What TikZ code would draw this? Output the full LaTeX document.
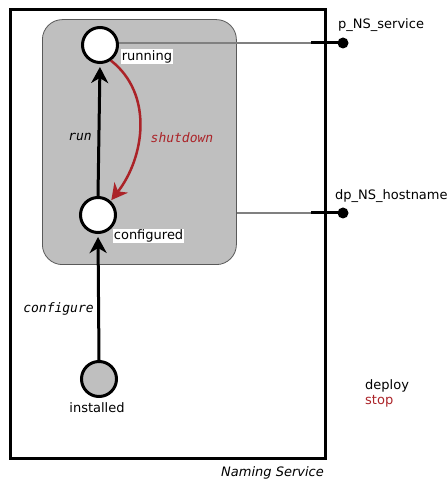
\documentclass[tikz,border=0pt]{standalone}
\usepackage{fontspec}
\setmainfont{DejaVu Sans}
\newfontfamily\monoit{DejaVu Sans Mono}[ItalicFont={DejaVu Sans Mono Oblique}]
\usetikzlibrary{arrows.meta}
\definecolor{redtrans}{HTML}{AB2328}
\definecolor{compfill}{HTML}{BFBFBF}
\begin{document}
\begin{tikzpicture}[x=1pt,y=1pt,
  font=\fontsize{13}{15}\selectfont,
  state/.style={circle,draw=black,line width=3pt,fill=white,minimum size=35pt,inner sep=0pt},
  initstate/.style={state,fill=compfill},
  statelabel/.style={fill=white,inner sep=1.2pt},
  trans/.style={line width=3pt,shorten >=3pt,-{Stealth[length=16pt,width=17pt,inset=5pt]}},
  redtransition/.style={trans,draw=redtrans,line width=2.5pt,shorten >=1pt},
  translabel/.style={font=\fontsize{13}{15}\selectfont\monoit\itshape},
  portline/.style={draw=gray,line width=1.5pt},
  portstub/.style={line width=3pt},
  portdot/.style={circle,fill=black,minimum size=11pt,inner sep=0pt}]
\useasboundingbox (0,0) rectangle (448,483);

% component frame
\draw[line width=3pt] (10,24) rectangle (325,473);
\node[anchor=base east,inner sep=0pt,font=\fontsize{13}{15}\selectfont\itshape] (compname) at (324,6) {Naming Service};

% composite state
\node[draw=black!65,line width=0.8pt,fill=compfill,rounded corners=20pt,
      minimum width=194pt,minimum height=245pt,anchor=south west] (comp) at (42,218) {};

% states
\node[state] (running) at (100,438) {};
\node[state] (configured) at (98,268) {};
\node[initstate] (installed) at (99,104) {};

\node[statelabel,anchor=west] (runninglbl) at (120.5,426.5) {running};
\node[statelabel,anchor=west] (configuredlbl) at (112.5,247) {configured};
\node (installedlbl) at (97,75.5) {installed};

% transitions
\draw[trans] (configured.north) -- (running.south);
\node[translabel] (runlbl) at (80,346) {run};
\draw[trans] (installed.north) -- (configured.south);
\node[translabel] (configurelbl) at (58.5,174) {configure};
\draw[redtransition] (running.-55) to[out=-38,in=52] (configured.48);
\node[translabel,text=redtrans] (shutdownlbl) at (182,345) {shutdown};

% ports
\node[portdot] (p1) at (343,440) {};
\coordinate (s1) at (311,440);
\draw[portline] (running.east |- p1) -- (s1);
\draw[portstub] (s1) -- (p1.center);
\node[anchor=base west,inner sep=0pt] (p1lbl) at (338,454) {p\_NS\_service};

\node[portdot] (p2) at (343,270) {};
\coordinate (s2) at (311,270);
\draw[portline] (comp.east |- p2) -- (s2);
\draw[portstub] (s2) -- (p2.center);
\node[anchor=base west,inner sep=0pt] (p2lbl) at (335,283) {dp\_NS\_hostname};

% legend
\node[anchor=base west,inner sep=0pt] (deploylbl) at (365,93) {deploy};
\node[anchor=base west,inner sep=0pt,text=redtrans] (stoplbl) at (365,78) {stop};
\end{tikzpicture}
\end{document}
